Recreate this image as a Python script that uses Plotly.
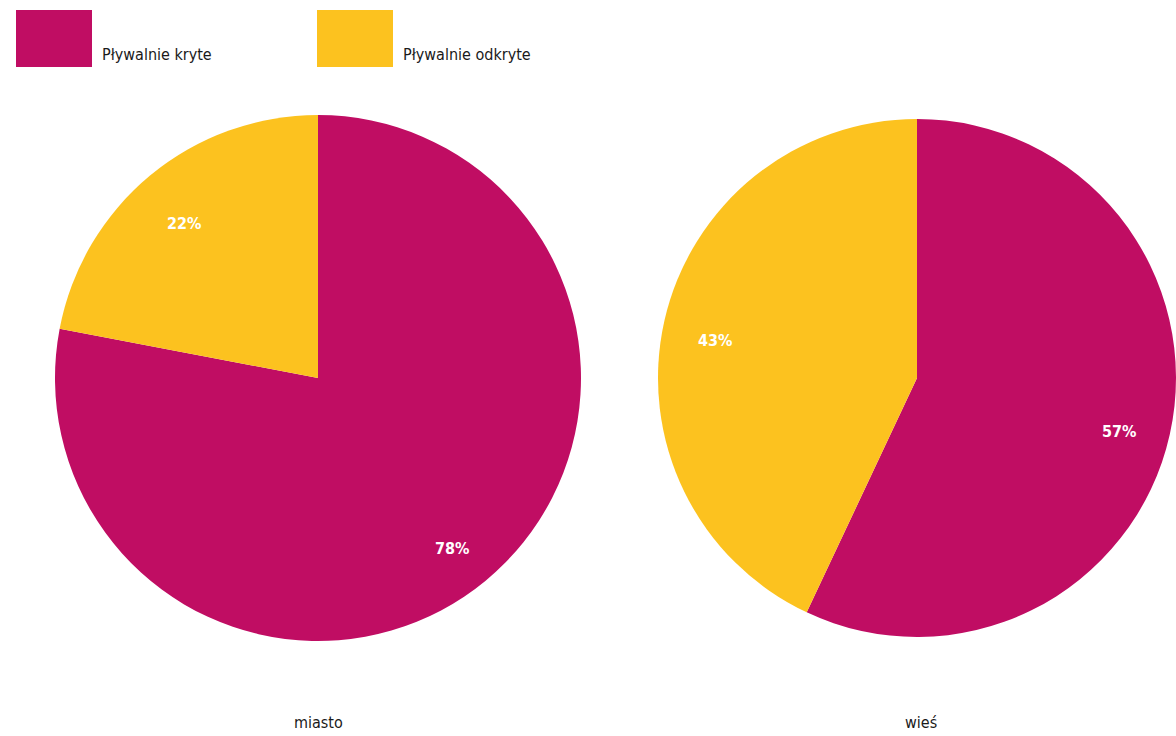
import math
import plotly.graph_objects as go

# Share of indoor vs outdoor swimming pools, city vs countryside
categories = ["Pływalnie kryte", "Pływalnie odkryte"]
groups = ["miasto", "wieś"]
miasto_values = [78, 22]
wies_values = [57, 43]

colors = ["#C00D63", "#FCC21F"]
FONT = "DejaVu Sans Condensed, Roboto, sans-serif"
TEXT_COLOR = "#1a1a1a"

W, H = 1176, 736
fig = go.Figure()

# pie domains in pixels: (x0, x1, y_top, y_bottom)
pie_px = [(55, 581, 115, 641), (658, W, 115, 641)]
domains = [dict(x=[x0 / W, x1 / W], y=[(H - yb) / H, (H - yt) / H])
           for x0, x1, yt, yb in pie_px]

for name, vals, dom in zip(groups, [miasto_values, wies_values], domains):
    fig.add_trace(go.Pie(
        labels=categories,
        values=vals,
        name=name,
        sort=False,
        direction="clockwise",
        rotation=0,
        marker=dict(colors=colors, line=dict(width=0)),
        textinfo="none",
        hoverinfo="label+value",
        domain=dom,
        showlegend=False,
    ))

# Percentage labels placed at each slice's mid-angle
LABEL_R = 0.8
for vals, (x0, x1, yt, yb) in zip([miasto_values, wies_values], pie_px):
    r = min(x1 - x0, yb - yt) / 2
    cx = (x0 + x1) / 2
    cy = (yt + yb) / 2
    total = sum(vals)
    start = 0.0
    for v in vals:
        mid = (start + v / 2) / total * 2 * math.pi
        start += v
        px = cx + LABEL_R * r * math.sin(mid)
        py = cy - LABEL_R * r * math.cos(mid)
        fig.add_annotation(x=px / W, y=1 - py / H, xref="paper", yref="paper",
                           text=f"{v}%", showarrow=False,
                           xanchor="center", yanchor="middle", yshift=-8,
                           font=dict(family=FONT, size=16, color="white",
                                     weight="bold"))

# Group captions under each pie
caption_x = [318, 921]
for name, cx in zip(groups, caption_x):
    fig.add_annotation(x=cx / W, y=1 - 722 / H, xref="paper", yref="paper",
                       text=name, showarrow=False,
                       xanchor="center", yanchor="middle",
                       font=dict(family=FONT, size=16, color=TEXT_COLOR))

# Legend: big colour swatches with labels
legend_x = [16, 317]
for cat, col, lx in zip(categories, colors, legend_x):
    fig.add_shape(type="rect", xref="paper", yref="paper",
                  x0=lx / W, x1=(lx + 76) / W, y0=1 - 67 / H, y1=1 - 10 / H,
                  fillcolor=col, line=dict(width=0))
    fig.add_annotation(x=(lx + 84) / W, y=1 - 54 / H, xref="paper", yref="paper",
                       text=cat, showarrow=False, xanchor="left", yanchor="middle",
                       font=dict(family=FONT, size=16, color=TEXT_COLOR))

fig.update_layout(
    width=W, height=H,
    margin=dict(l=0, r=0, t=0, b=0),
    paper_bgcolor="white",
    plot_bgcolor="white",
)

fig.write_html("out.html")
